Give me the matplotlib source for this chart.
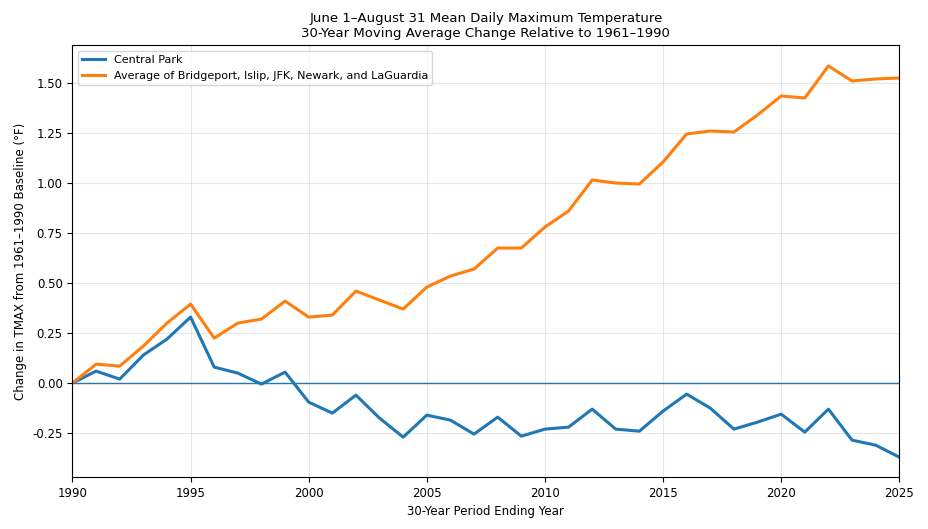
import matplotlib
matplotlib.use("Agg")
import matplotlib.pyplot as plt

years = list(range(1990, 2026))
central_park = [0, 0.06, 0.02, 0.14, 0.22, 0.33, 0.08, 0.05, -0.005, 0.055,
                -0.095, -0.15, -0.06, -0.175, -0.27, -0.16, -0.185, -0.255, -0.17, -0.265,
                -0.23, -0.22, -0.13, -0.23, -0.24, -0.14, -0.055, -0.125, -0.23, -0.195,
                -0.155, -0.245, -0.13, -0.285, -0.31, -0.37]
avg_others = [0, 0.095, 0.085, 0.185, 0.3, 0.395, 0.225, 0.30, 0.32, 0.41,
              0.33, 0.34, 0.46, 0.415, 0.37, 0.48, 0.535, 0.57, 0.675, 0.675,
              0.78, 0.86, 1.015, 1.0, 0.995, 1.105, 1.245, 1.26, 1.255, 1.34,
              1.435, 1.425, 1.585, 1.51, 1.52, 1.525]

fig, ax = plt.subplots(figsize=(9.29, 5.29), dpi=100)
ax.plot(years, central_park, lw=2.2, label="Central Park")
ax.plot(years, avg_others, lw=2.2, label="Average of Bridgeport, Islip, JFK, Newark, and LaGuardia")
ax.axhline(0, lw=1, color="C0")
ax.set_xlim(1990, 2025)
ax.set_ylim(-0.47, 1.69)
ax.set_yticks([-0.25, 0, 0.25, 0.5, 0.75, 1.0, 1.25, 1.5])
ax.yaxis.set_major_formatter(matplotlib.ticker.FormatStrFormatter("%.2f"))
ax.grid(True, alpha=0.3)
ax.set_xlabel("30-Year Period Ending Year", fontsize=8.5)
ax.set_ylabel("Change in TMAX from 1961\u20131990 Baseline (\u00b0F)", fontsize=8.5)
ax.set_title("June 1\u2013August 31 Mean Daily Maximum Temperature\n30-Year Moving Average Change Relative to 1961\u20131990", fontsize=9.5)
ax.tick_params(labelsize=8.5)
ax.legend(loc="upper left", fontsize=8)
fig.subplots_adjust(left=0.078, right=0.968, top=0.915, bottom=0.098)
fig.savefig("out.png")
